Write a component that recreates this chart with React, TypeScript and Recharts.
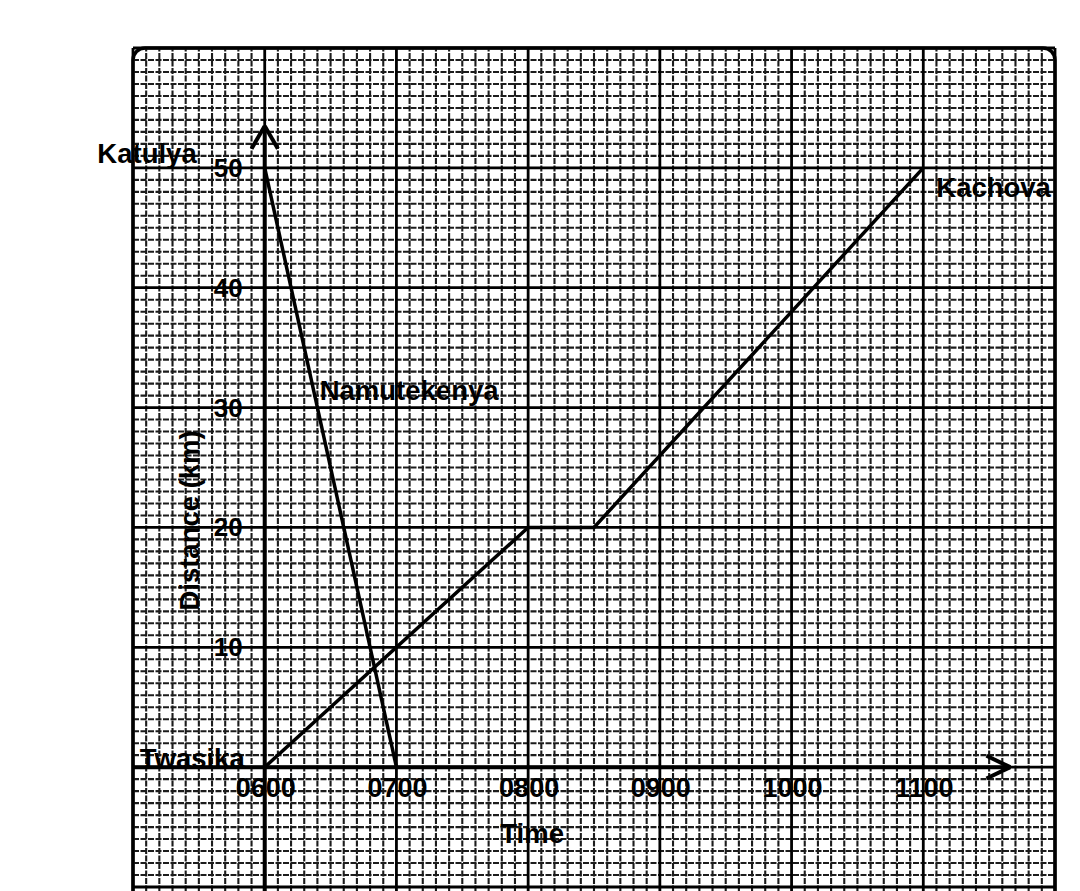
import React from "react";
import {
  LineChart,
  Line,
  XAxis,
  YAxis,
  ReferenceLine,
  ReferenceDot,
  ReferenceArea,
} from "recharts";

// Time in hours (6 = 0600), distance in km from Twasika
const kachovaTrip = [
  { t: 6, d: 0 },
  { t: 8, d: 20 },
  { t: 8.5, d: 20 },
  { t: 11, d: 50 },
];

const namutekenyaTrip = [
  { t: 6, d: 50 },
  { t: 7, d: 0 },
];

const hourTicks = [6, 7, 8, 9, 10, 11];
const hourLabels = ["0600", "0700", "0800", "0900", "1000", "1100"];
const distanceTicks = [10, 20, 30, 40, 50];

// graph paper extent
const X_MIN = 5;
const X_MAX = 12;
const Y_MIN = -11;
const Y_MAX = 60;

// grid positions of the graph paper (every 6 min and every 1 km)
const minorX: number[] = [];
for (let i = X_MIN * 10; i <= X_MAX * 10; i++) {
  if (i % 10 !== 0) minorX.push(i / 10);
}
const majorX: number[] = [];
for (let h = X_MIN; h <= X_MAX; h++) majorX.push(h);
const minorY: number[] = [];
const majorY: number[] = [];
for (let k = Y_MIN; k <= Y_MAX; k++) {
  if (k % 10 === 0) majorY.push(k);
  else minorY.push(k);
}

const FONT = "'Liberation Sans', Arial, sans-serif";

function txt(
  value: string,
  dx: number,
  dy: number,
  anchor: "start" | "middle" | "end",
  size = 27.5,
  rotate = false
) {
  return (props: any) => {
    const vb = props.viewBox || {};
    const x = (vb.x ?? 0) + (vb.width ?? 0) / 2 + dx;
    const y = (vb.y ?? 0) + (vb.height ?? 0) / 2 + dy;
    return (
      <text
        x={x}
        y={y}
        textAnchor={anchor}
        fontFamily={FONT}
        fontWeight="bold"
        fontSize={size}
        fill="#000"
        transform={rotate ? `rotate(-90 ${x} ${y})` : undefined}
      >
        {value}
      </text>
    );
  };
}

export default function App() {
  return (
    <div
      style={{
        position: "absolute",
        left: 0,
        top: 0,
        width: 1080,
        height: 891,
        overflow: "hidden",
        background: "#fff",
      }}
    >
      <LineChart
        width={1080}
        height={900}
        margin={{ top: 48, right: 25, bottom: 1, left: 133 }}
      >
        <XAxis dataKey="t" type="number" domain={[X_MIN, X_MAX]} hide allowDataOverflow />
        <YAxis dataKey="d" type="number" domain={[Y_MIN, Y_MAX]} hide allowDataOverflow />

        {/* graph paper */}
        {minorX.map((v) => (
          <ReferenceLine key={`mx${v}`} x={v} stroke="#1c1c1c" strokeWidth={2.1} strokeDasharray="6 1.5" />
        ))}
        {minorY.map((v) => (
          <ReferenceLine key={`my${v}`} y={v} stroke="#1c1c1c" strokeWidth={2.1} strokeDasharray="6 1.5" />
        ))}
        {majorX.map((v) => (
          <ReferenceLine key={`Mx${v}`} x={v} stroke="#000" strokeWidth={2.8} />
        ))}
        {majorY.map((v) => (
          <ReferenceLine key={`My${v}`} y={v} stroke="#000" strokeWidth={2.8} />
        ))}
        <ReferenceArea
          x1={X_MIN}
          x2={X_MAX}
          y1={Y_MIN}
          y2={Y_MAX}
          fill="none"
          fillOpacity={0}
          stroke="#000"
          strokeWidth={3.5}
          radius={[12, 12, 0, 0] as any}
        />

        {/* axes with arrow heads */}
        <ReferenceLine segment={[{ x: 6, y: Y_MIN }, { x: 6, y: 53.5 }]} stroke="#000" strokeWidth={4} />
        <ReferenceLine segment={[{ x: 5.9, y: 51.6 }, { x: 6, y: 53.5 }]} stroke="#000" strokeWidth={4} />
        <ReferenceLine segment={[{ x: 6.1, y: 51.6 }, { x: 6, y: 53.5 }]} stroke="#000" strokeWidth={4} />
        <ReferenceLine segment={[{ x: X_MIN, y: 0 }, { x: 11.66, y: 0 }]} stroke="#000" strokeWidth={4} />
        <ReferenceLine segment={[{ x: 11.48, y: 0.95 }, { x: 11.66, y: 0 }]} stroke="#000" strokeWidth={4} />
        <ReferenceLine segment={[{ x: 11.48, y: -0.95 }, { x: 11.66, y: 0 }]} stroke="#000" strokeWidth={4} />

        <Line
          data={kachovaTrip}
          dataKey="d"
          type="linear"
          stroke="#000"
          strokeWidth={3.5}
          dot={false}
          isAnimationActive={false}
        />
        <Line
          data={namutekenyaTrip}
          dataKey="d"
          type="linear"
          stroke="#000"
          strokeWidth={3.5}
          dot={false}
          isAnimationActive={false}
        />

        {/* tick labels */}
        {hourTicks.map((h, i) => (
          <ReferenceDot
            key={`ht${h}`}
            x={h}
            y={0}
            r={0}
            fill="none"
            stroke="none"
            label={txt(hourLabels[i], 1, 30, "middle", 27)}
          />
        ))}
        {distanceTicks.map((d) => (
          <ReferenceDot
            key={`dt${d}`}
            x={6}
            y={d}
            r={0}
            fill="none"
            stroke="none"
            label={txt(String(d), -22, 9, "end", 26)}
          />
        ))}

        {/* place names and axis titles */}
        <ReferenceDot x={6} y={50} r={0} fill="none" stroke="none" label={txt("Katulya", -68, -5, "end")} />
        <ReferenceDot x={6} y={0} r={0} fill="none" stroke="none" label={txt("Twasika", -20, 1, "end")} />
        <ReferenceDot x={8} y={0} r={0} fill="none" stroke="none" label={txt("Time", 4, 76, "middle")} />
        <ReferenceDot x={6} y={20} r={0} fill="none" stroke="none" label={txt("Distance (km)", -66, -7, "middle", 27.5, true)} />
        <ReferenceDot x={6} y={30} r={0} fill="none" stroke="none" label={txt("Namutekenya", 55, -8, "start")} />
        <ReferenceDot x={11} y={50} r={0} fill="none" stroke="none" label={txt("Kachova", 13, 29, "start")} />
      </LineChart>
    </div>
  );
}
